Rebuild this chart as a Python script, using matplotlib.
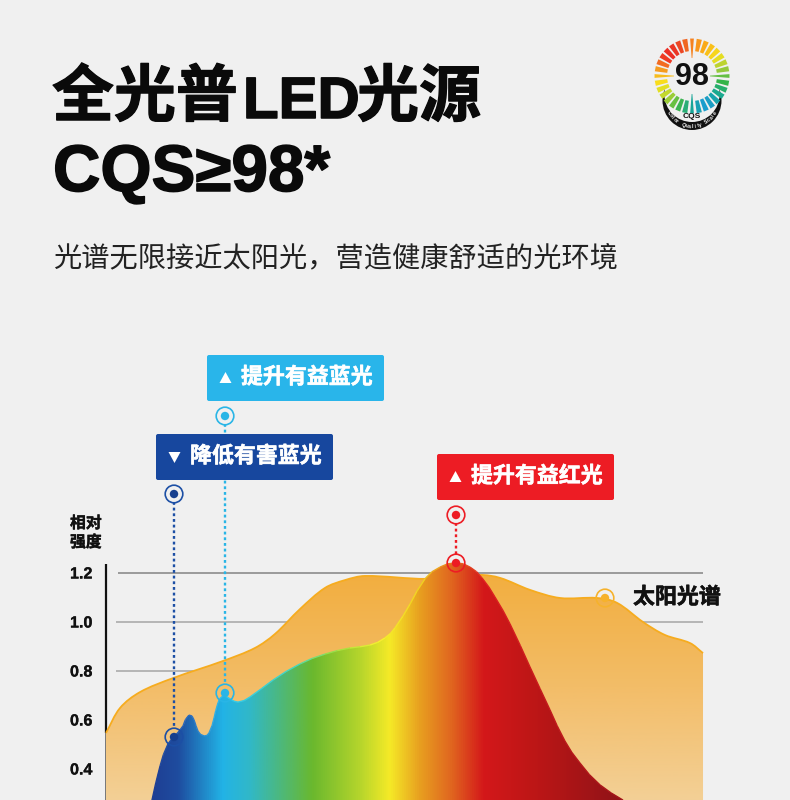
import numpy as np
import matplotlib
matplotlib.use("Agg")
import matplotlib.pyplot as plt
import matplotlib.patheffects as pe
from matplotlib.path import Path
from matplotlib.patches import PathPatch, Circle, FancyBboxPatch, Polygon
from matplotlib.colors import LinearSegmentedColormap
from matplotlib.collections import LineCollection

CJK = ['Noto Sans CJK SC', 'DejaVu Sans']
plt.rcParams['font.family'] = CJK

# ---- data ----
sun_nm = [380, 389.4, 402.8, 424.9, 458.4, 479.8, 493.2, 510, 526.7, 540.1, 553.5, 595.1, 630.6, 644,
          664.1, 684.2, 709, 722.4, 739.8, 754.5, 771.3, 780]
sun_val = [.547, .649, .714, .771, .841, .894, .951, 1.053, 1.139, 1.171, 1.188, 1.176, 1.192, 1.18,
           1.131, 1.098, 1.098, 1.078, 1.0, .947, .914, .873]
led_nm = [410.8, 416.2, 421.5, 426.2, 431.6, 435.6, 439, 441.6, 445.7, 449, 452.4, 455, 458.4, 463.1, 468.4,
          476.5, 491.9, 510, 526.7, 543.5, 556.9, 566.9, 573.6, 583.7, 593.7, 603.8, 614.5, 623.9, 631.9,
          640.6, 650.7, 664.1, 677.5, 687.5, 697.6, 711, 726.4]
led_val = [.273, .412, .502, .535, .576, .620, .6, .555, .535, .547, .608, .669, .698, .686, .673,
           .694, .763, .829, .869, .894, .906, .935, .976, 1.073, 1.176, 1.224, 1.241, 1.224, 1.18,
           1.102, .992, .816, .641, .514, .424, .335, .273]
yticks = [1.2, 1.0, 0.8, 0.6, 0.4]
grid_ends = [780, 780, 438, 380, 380]
callouts = ["提升有益蓝光", "降低有害蓝光", "提升有益红光"]
title_cjk = ["全光普", "光源"]
title_latin = "LED"
title_line2 = "CQS≥98*"
subtitle = "光谱无限接近太阳光，营造健康舒适的光环境"
sun_label = "太阳光谱"
badge_score = "98"

W, H = 790, 800
fig = plt.figure(figsize=(W/100, H/100), dpi=100, facecolor='#F0F0F0')

ax = fig.add_axes([0, 0, 1, 1], facecolor='none')
nm_per_px = 0.67
ax.set_xlim(380 - 106*nm_per_px, 380 + (W-106)*nm_per_px)
ax.set_ylim((867-800)/245, 867/245)
ax.axis('off')

ov = fig.add_axes([0, 0, 1, 1], facecolor='none', zorder=5)
ov.set_xlim(0, W); ov.set_ylim(H, 0); ov.axis('off')


def smooth(xs, ys, base=None):
    p = np.column_stack([np.array(xs)/nm_per_px, np.array(ys)*245.0])
    d = np.gradient(p, axis=0)
    d[1:-1] = p[2:] - p[:-2]
    d = d / np.linalg.norm(d, axis=1, keepdims=True)
    verts = [tuple(p[0])]; codes = [Path.MOVETO]
    for i in range(len(p)-1):
        s = np.linalg.norm(p[i+1]-p[i])/3
        verts += [tuple(p[i]+d[i]*s), tuple(p[i+1]-d[i+1]*s), tuple(p[i+1])]
        codes += [Path.CURVE4]*3
    v = np.array(verts)/np.array([1/nm_per_px, 245.0])
    verts = [tuple(a) for a in v]
    if base is not None:
        verts += [(xs[-1], base), (xs[0], base), (xs[0], ys[0])]
        codes += [Path.LINETO]*3
    return Path(verts, codes)


# grid and axis
for t, e in zip(yticks, grid_ends):
    x0 = 388 if t == 1.2 else 386.5
    if e > 380:
        ax.plot([x0, e], [t, t], color='#9A9A9A' if t == 1.2 else '#ABABAB',
                lw=1.4 if t == 1.2 else 1.2, zorder=1, solid_capstyle='butt')
    ov.text(70, 868-245*t, f"{t:.1f}", family='Liberation Sans', weight='bold', fontsize=11.6,
            va='center', ha='left', color='#111111',
            path_effects=[pe.withStroke(linewidth=0.2, foreground='#111111')])
ax.plot([380, 380], [.547, 1.237], color='#111111', lw=1.6, zorder=1, solid_capstyle='butt')
ax.plot([380, 380], [.2, .547], color='#777777', lw=1.4, zorder=1, solid_capstyle='butt')
for y, s in ((523, "相对"), (542, "强度")):
    ov.text(70, y, s, weight='bold', fontsize=11.4, va='center', color='#111111',
            path_effects=[pe.withStroke(linewidth=0.3, foreground='#111111')])

# sun area
sun_cmap = LinearSegmentedColormap.from_list('sun', ['#F3D096', '#F3BD68', '#F2AE3F'])
sun_path = smooth(sun_nm, sun_val, base=0.2)
grad = np.linspace(0, 1, 256)[::-1].reshape(-1, 1)
im = ax.imshow(grad, extent=[380, 780, 0.27, 1.2], aspect='auto', cmap=sun_cmap, zorder=2, vmin=0, vmax=1)
im.set_clip_path(PathPatch(sun_path, transform=ax.transData))
ax.add_patch(PathPatch(smooth(sun_nm, sun_val), fill=False, ec='#F6AC1F', lw=1.3, zorder=2.5))

# LED area
stops = [(411, '#1F3F94'), (428, '#1E4C9F'), (458, '#22B3E6'), (476, '#31B8C8'), (518, '#6AB82E'),
         (550, '#B5D52C'), (570, '#F5EA27'), (590, '#E8A020'), (612, '#E0641F'), (633, '#D4181A'),
         (670, '#BB1616'), (726, '#8F1318')]
to_t = lambda v: (v-411)/(726-411)
led_cmap = LinearSegmentedColormap.from_list('led', [(to_t(a), c) for a, c in stops])
led_path = smooth(led_nm, led_val, base=0.2)
im2 = ax.imshow(np.linspace(0, 1, 512).reshape(1, -1), extent=[411, 726, 0.2, 1.3], aspect='auto',
                cmap=led_cmap, zorder=3, vmin=0, vmax=1)
im2.set_clip_path(PathPatch(led_path, transform=ax.transData))
edge_stops = [(411, '#1F3F94'), (436, '#2F70C0'), (458, '#30C8F0'), (500, '#45D8C0'), (530, '#A0E040'),
              (560, '#F8F030'), (590, '#F0D020'), (610, '#E87020'), (633, '#E02020'), (726, '#A01418')]
edge_cmap = LinearSegmentedColormap.from_list('edge', [(to_t(a), c) for a, c in edge_stops])
poly = smooth(led_nm, led_val).to_polygons(closed_only=False)[0]
segs = np.stack([poly[:-1], poly[1:]], axis=1)
ax.add_collection(LineCollection(segs, colors=edge_cmap(np.clip(to_t(segs[:, 0, 0]), 0, 1)), linewidths=1.0, zorder=3.5))
ax.set_xlim(380 - 106*nm_per_px, 380 + (W-106)*nm_per_px)
ax.set_ylim((867-800)/245, 867/245)

# callouts
boxes = [(207, 355, '#29B5EA', 1), (156, 434, '#17479E', -1), (437, 454, '#ED1C24', 1)]
for (x, y, c, tri), s in zip(boxes, callouts):
    ov.add_patch(FancyBboxPatch((x+1.5, y+1.5), 174, 43, boxstyle='round,pad=1.5,rounding_size=2',
                                fc=c, ec='none', zorder=8))
    tx, ty = x+18.5, y+23
    ov.add_patch(Polygon([(tx-6, ty+5*tri), (tx+6, ty+5*tri), (tx, ty-6*tri)], fc='white', ec='none', zorder=9))
    ov.text(x+34, y+22, s, color='white', fontsize=15.8, weight='bold', ha='left', va='center', zorder=9,
            path_effects=[pe.withStroke(linewidth=0.4, foreground='white')])

# markers and leaders
marks = [(174, 494, 737, '#1C4FA5', '#173F8E'), (225, 416, 693, '#29B5E6', '#29B5E6'), (456, 515, 563, '#ED1C24', '#ED1C24')]
for x, y0, y1, c, dot in marks:
    ov.plot([x, x], [y0+8, y1-8], color=c, lw=1.7, ls=(0, (1.2, 1.2)), zorder=6)
    for y in (y0, y1):
        ov.add_patch(Circle((x, y), 8.8, fc='none', ec=c, lw=1.2, zorder=7))
        ov.add_patch(Circle((x, y), 4.2, fc=dot, ec='none', zorder=7))
ov.add_patch(Circle((605, 598), 8.8, fc='none', ec='#F6B22C', lw=1.2, zorder=7))
ov.add_patch(Circle((605, 598), 4.2, fc='#F6B22C', ec='none', zorder=7))
ov.text(633, 597, sun_label, fontsize=15.8, weight='bold', ha='left', va='center', color='#111111',
        path_effects=[pe.withStroke(linewidth=0.4, foreground='#111111')])

# headings
heavy = [pe.withStroke(linewidth=0.9, foreground='#0A0A0A')]
heavy_lat = [pe.withStroke(linewidth=1.1, foreground='#0A0A0A')]
ov.text(52, 116, title_cjk[0], fontsize=44.6, weight='bold', ha='left', va='baseline', color='#0A0A0A', path_effects=heavy)
ov.text(243, 118, title_latin, fontsize=42, weight='bold', family='Liberation Sans', ha='left', va='baseline',
        color='#0A0A0A', path_effects=heavy_lat)
ov.text(357, 116, title_cjk[1], fontsize=44.6, weight='bold', ha='left', va='baseline', color='#0A0A0A', path_effects=heavy)
ov.text(53, 191, title_line2, fontsize=47.3, weight='bold', family='Liberation Sans', ha='left', va='baseline',
        color='#0A0A0A', path_effects=heavy_lat)
ov.text(53, 258, subtitle, fontsize=20.3, ha='left', va='center', color='#222222')

# badge
cx, cy = 692, 76
ov.add_patch(Circle((692, 100.5), 29.5, fc='#111111', ec='none', zorder=2))
ov.add_patch(Circle((692, 94.4), 27.6, fc='#F0F0F0', ec='none', zorder=2.5))
n = 32
anchors = ['#F58220', '#FBB017', '#F6E11C', '#9CCB3B', '#2FB34A', '#17A79D', '#1C9BD6',
           '#18A69A', '#3FB54A', '#B4D432', '#F9E51A', '#F59A1F', '#ED2A24', '#E93A26', '#F58220']
badge_cmap = LinearSegmentedColormap.from_list('badge', anchors)
for i in range(n):
    a = 2*np.pi*i/n
    long_tick = i % 8 == 0
    r0 = 18 if long_tick else 25
    r1 = 37.5
    hw0, hw1 = (0.02, 0.05) if long_tick else (0.07, 0.07)
    pts = [(cx+r0*np.sin(a-hw0), cy-r0*np.cos(a-hw0)), (cx+r1*np.sin(a-hw1), cy-r1*np.cos(a-hw1)),
           (cx+r1*np.sin(a+hw1), cy-r1*np.cos(a+hw1)), (cx+r0*np.sin(a+hw0), cy-r0*np.cos(a+hw0))]
    ov.add_patch(Polygon(pts, fc=badge_cmap(i/n), ec='none', zorder=3))
ov.text(cx, cy+1, badge_score, fontsize=22, weight='bold', family='Liberation Sans', ha='center',
        va='center', color='#111111', zorder=4)
ov.text(cx, 117, "CQS", fontsize=6, weight='bold', family='Liberation Sans', ha='center', va='center',
        color='#111111', zorder=4)
for word, mid in (("Color", 221), ("Quality", 270), ("Scale", 318)):
    for j, ch in enumerate(word):
        ang = mid + (j-(len(word)-1)/2)*6.6
        r = 26
        px = cx + r*np.cos(np.radians(ang)); py = 100.5 - r*np.sin(np.radians(ang))
        ov.text(px, py, ch, fontsize=3.6, weight='bold', family='Liberation Sans', color='white',
                ha='center', va='center', rotation=ang+90, zorder=4)

fig.savefig('out.png', dpi=100, facecolor=fig.get_facecolor())
